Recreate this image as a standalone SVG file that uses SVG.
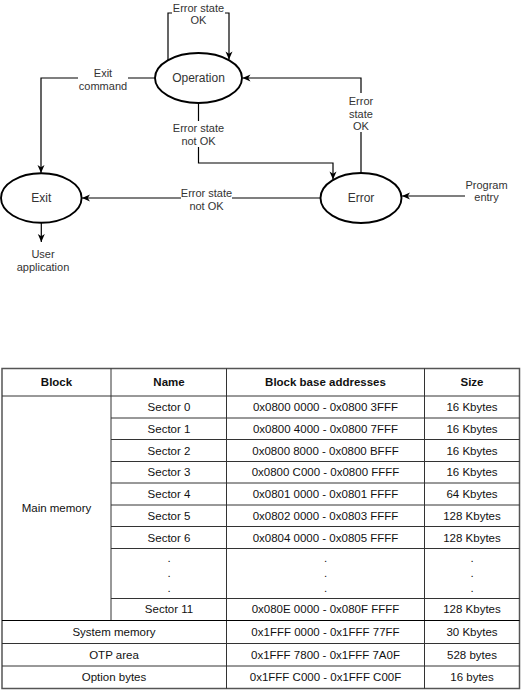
<svg xmlns="http://www.w3.org/2000/svg" width="522" height="692" viewBox="0 0 522 692">
<style>
.node{fill:#fff;stroke:#000;stroke-width:1.9}
.nt{font-family:"Liberation Sans",Arial,sans-serif;font-size:12px;fill:#333;text-anchor:middle}
.el{font-family:"Liberation Sans",Arial,sans-serif;font-size:11px;fill:#333;text-anchor:middle}
.edge{fill:none;stroke:#000;stroke-width:1.2}
.lbg{fill:#fff}
.tl{stroke:#333;stroke-width:1;fill:none}
.tt{font-family:"Liberation Sans",Arial,sans-serif;font-size:11.5px;fill:#111;text-anchor:middle}
.th{font-family:"Liberation Sans",Arial,sans-serif;font-size:11.5px;font-weight:bold;fill:#111;text-anchor:middle}
</style>
<defs>
<marker id="arr" markerUnits="userSpaceOnUse" markerWidth="9" markerHeight="9" viewBox="0 0 9 9" refX="8.5" refY="4.5" orient="auto">
<path d="M0.5,1 L8.5,4.5 L0.5,8 L2.8,4.5 Z" fill="#000"/>
</marker>
</defs>
<rect width="522" height="692" fill="#fff"/>
<g id="connectors">
<path class="edge" d="M168,60 V13 H229 V59.5" marker-end="url(#arr)"/>
<path class="edge" d="M155,78 H41 V173" marker-end="url(#arr)"/>
<path class="edge" d="M198.5,103 V163 H333 V179.5" marker-end="url(#arr)"/>
<path class="edge" d="M361,173 V78 H242.5" marker-end="url(#arr)"/>
<path class="edge" d="M465,196 H402" marker-end="url(#arr)"/>
<path class="edge" d="M320.5,198 H82" marker-end="url(#arr)"/>
<path class="edge" d="M41.3,222.7 V242" marker-end="url(#arr)"/>
<rect class="lbg" x="172" y="1" width="53" height="26"/>
<text class="el" x="198.5" y="11.5">Error state</text>
<text class="el" x="198.5" y="24">OK</text>
<rect class="lbg" x="78" y="66" width="50" height="26"/>
<text class="el" x="103" y="77">Exit</text>
<text class="el" x="103" y="90">command</text>
<rect class="lbg" x="172" y="121" width="53" height="26"/>
<text class="el" x="198.5" y="132">Error state</text>
<text class="el" x="198.5" y="145">not OK</text>
<rect class="lbg" x="346" y="93" width="30" height="39"/>
<text class="el" x="361" y="104.5">Error</text>
<text class="el" x="361" y="117.5">state</text>
<text class="el" x="361" y="130">OK</text>
<text class="el" x="486.5" y="188.5">Program</text>
<text class="el" x="486.5" y="201">entry</text>
<rect class="lbg" x="181" y="186" width="51" height="26"/>
<text class="el" x="206.5" y="197.3">Error state</text>
<text class="el" x="206.5" y="210">not OK</text>
<text class="el" x="43" y="258.3">User</text>
<text class="el" x="43" y="271.3">application</text>
</g>
<g id="operation">
<ellipse class="node" cx="198.5" cy="78" rx="43.5" ry="25"/>
<text class="nt" x="198.5" y="82.3">Operation</text>
</g>
<g id="error">
<ellipse class="node" cx="361" cy="198" rx="40.5" ry="25"/>
<text class="nt" x="361" y="202.3">Error</text>
</g>
<g id="exit">
<ellipse class="node" cx="41.3" cy="198" rx="40.3" ry="24.7"/>
<text class="nt" x="41.3" y="202.3">Exit</text>
</g>
<g id="table">
<rect x="2" y="368.5" width="517.5" height="320" fill="#fff" stroke="#555" stroke-width="1.5"/>
<line class="tl" x1="2" y1="396" x2="519.5" y2="396" stroke="#000" stroke-width="2"/>
<line class="tl" x1="111" y1="368.5" x2="111" y2="620.5"/>
<line class="tl" x1="226.5" y1="368.5" x2="226.5" y2="688.5"/>
<line class="tl" x1="424.5" y1="368.5" x2="424.5" y2="688.5"/>
<path class="tl" d="M111,418 H519.5 M111,439.5 H519.5 M111,461.5 H519.5 M111,483 H519.5 M111,505 H519.5 M111,526.5 H519.5 M111,548.5 H519.5 M111,598.5 H519.5"/>
<line x1="2" y1="620.5" x2="519.5" y2="620.5" stroke="#000" stroke-width="1.2"/>
<path class="tl" d="M2,643.5 H519.5 M2,666 H519.5"/>
<text class="th" x="56.5" y="386">Block</text>
<text class="th" x="169" y="386">Name</text>
<text class="th" x="325.5" y="386">Block base addresses</text>
<text class="th" x="472" y="386">Size</text>
<text class="tt" x="56.5" y="512">Main memory</text>
<text class="tt" x="169" y="411">Sector 0</text>
<text class="tt" x="325.5" y="411">0x0800 0000 - 0x0800 3FFF</text>
<text class="tt" x="472" y="411">16 Kbytes</text>
<text class="tt" x="169" y="432.7">Sector 1</text>
<text class="tt" x="325.5" y="432.7">0x0800 4000 - 0x0800 7FFF</text>
<text class="tt" x="472" y="432.7">16 Kbytes</text>
<text class="tt" x="169" y="454.5">Sector 2</text>
<text class="tt" x="325.5" y="454.5">0x0800 8000 - 0x0800 BFFF</text>
<text class="tt" x="472" y="454.5">16 Kbytes</text>
<text class="tt" x="169" y="476.2">Sector 3</text>
<text class="tt" x="325.5" y="476.2">0x0800 C000 - 0x0800 FFFF</text>
<text class="tt" x="472" y="476.2">16 Kbytes</text>
<text class="tt" x="169" y="498">Sector 4</text>
<text class="tt" x="325.5" y="498">0x0801 0000 - 0x0801 FFFF</text>
<text class="tt" x="472" y="498">64 Kbytes</text>
<text class="tt" x="169" y="519.7">Sector 5</text>
<text class="tt" x="325.5" y="519.7">0x0802 0000 - 0x0803 FFFF</text>
<text class="tt" x="472" y="519.7">128 Kbytes</text>
<text class="tt" x="169" y="541.5">Sector 6</text>
<text class="tt" x="325.5" y="541.5">0x0804 0000 - 0x0805 FFFF</text>
<text class="tt" x="472" y="541.5">128 Kbytes</text>
<text class="tt" x="169" y="562">.</text>
<text class="tt" x="169" y="577">.</text>
<text class="tt" x="169" y="592">.</text>
<text class="tt" x="325.5" y="562">.</text>
<text class="tt" x="325.5" y="577">.</text>
<text class="tt" x="325.5" y="592">.</text>
<text class="tt" x="472" y="562">.</text>
<text class="tt" x="472" y="577">.</text>
<text class="tt" x="472" y="592">.</text>
<text class="tt" x="169" y="613.3">Sector 11</text>
<text class="tt" x="325.5" y="613.3">0x080E 0000 - 0x080F FFFF</text>
<text class="tt" x="472" y="613.3">128 Kbytes</text>
<text class="tt" x="114" y="636">System memory</text>
<text class="tt" x="325.5" y="636">0x1FFF 0000 - 0x1FFF 77FF</text>
<text class="tt" x="472" y="636">30 Kbytes</text>
<text class="tt" x="114" y="658.8">OTP area</text>
<text class="tt" x="325.5" y="658.8">0x1FFF 7800 - 0x1FFF 7A0F</text>
<text class="tt" x="472" y="658.8">528 bytes</text>
<text class="tt" x="114" y="681.3">Option bytes</text>
<text class="tt" x="325.5" y="681.3">0x1FFF C000 - 0x1FFF C00F</text>
<text class="tt" x="472" y="681.3">16 bytes</text>
</g>
</svg>
